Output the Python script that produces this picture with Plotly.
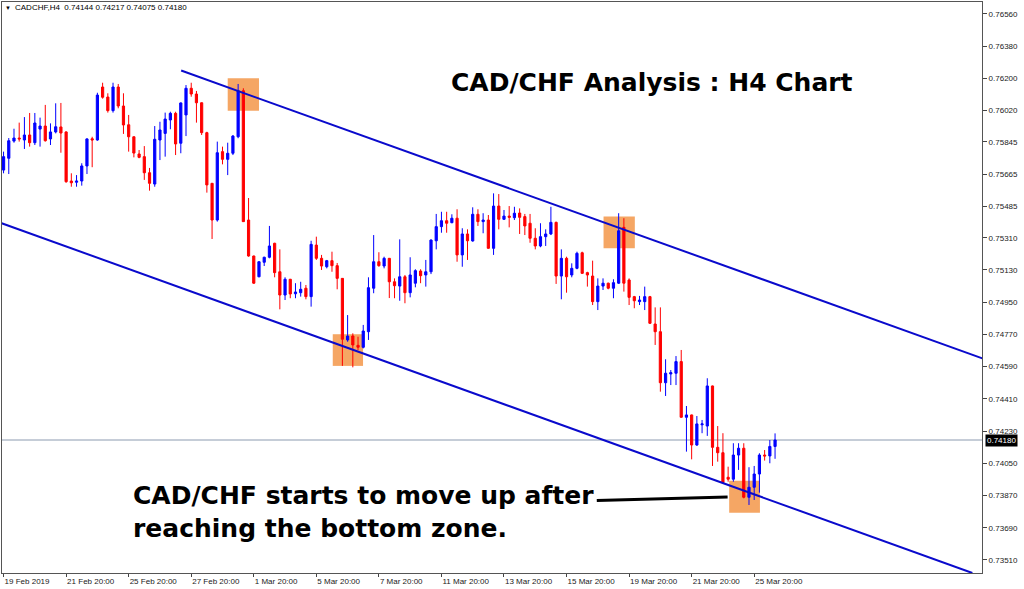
import plotly.graph_objects as go

# ---------------- data ----------------
open_ = [0.75688,0.75754,0.75850,0.75867,0.75856,0.75884,0.75841,0.75917,0.75934,0.75862,
         0.75901,0.75929,0.75901,0.75627,0.75620,0.75627,0.75711,0.75863,0.75856,0.76152,
         0.76096,0.76020,0.76152,0.76046,0.75941,0.75874,0.75778,0.75763,0.75673,0.75610,
         0.75856,0.75893,0.75968,0.76005,0.75838,0.75996,0.76145,0.76113,0.76064,0.75897,
         0.75614,0.75409,0.75791,0.75748,0.75782,0.75874,0.76131,0.75409,0.75208,0.75092,
         0.75173,0.75201,0.75279,0.75120,0.74990,0.75078,0.74997,0.75003,0.75028,0.74981,
         0.75269,0.75195,0.75148,0.75182,0.75154,0.75083,0.74739,0.74761,0.74709,0.74698,
         0.74785,0.75028,0.75176,0.75152,0.75195,0.75064,0.75040,0.75092,0.75003,0.75056,
         0.75124,0.75102,0.75120,0.75293,0.75372,0.75405,0.75394,0.75419,0.75214,0.75331,
         0.75292,0.75441,0.75400,0.75409,0.75251,0.75487,0.75413,0.75431,0.75422,0.75448,
         0.75428,0.75391,0.75307,0.75264,0.75316,0.75331,0.75396,0.75096,0.75195,0.75102,
         0.75139,0.75226,0.75115,0.75096,0.74953,0.75040,0.75056,0.75028,0.75056,0.75368,
         0.75074,0.74981,0.74953,0.74953,0.74981,0.74828,0.74785,0.74500,0.74549,0.74553,
         0.74618,0.74307,0.74320,0.74152,0.74265,0.74258,0.74482,0.74139,0.74109,0.73972,
         0.73961,0.74096,0.74134,0.73860,0.73916,0.73990,0.74096,0.74091,0.74144]
high_ = [0.75791,0.75867,0.75919,0.75953,0.75984,0.76007,0.76007,0.75981,0.76052,0.75949,
         0.76061,0.76063,0.75905,0.75670,0.75660,0.75726,0.75866,0.75874,0.76120,0.76176,
         0.76117,0.76176,0.76169,0.76117,0.75996,0.75876,0.75800,0.75822,0.75700,0.75934,
         0.75958,0.76009,0.76014,0.76014,0.76066,0.76163,0.76176,0.76130,0.76066,0.75902,
         0.75616,0.75847,0.75819,0.75841,0.75884,0.76169,0.76145,0.75532,0.75210,0.75178,
         0.75204,0.75376,0.75282,0.75245,0.75089,0.75080,0.75056,0.75064,0.75046,0.75293,
         0.75316,0.75214,0.75186,0.75232,0.75169,0.75085,0.74878,0.74776,0.74757,0.74823,
         0.75089,0.75325,0.75229,0.75204,0.75197,0.75083,0.75301,0.75102,0.75201,0.75134,
         0.75134,0.75186,0.75301,0.75443,0.75455,0.75455,0.75441,0.75469,0.75363,0.75357,
         0.75480,0.75469,0.75447,0.75437,0.75558,0.75554,0.75465,0.75487,0.75483,0.75474,
         0.75443,0.75443,0.75363,0.75391,0.75357,0.75483,0.75400,0.75245,0.75204,0.75167,
         0.75232,0.75232,0.75120,0.75182,0.75083,0.75083,0.75059,0.75078,0.75447,0.75419,
         0.75083,0.74985,0.74985,0.75037,0.74985,0.74921,0.74921,0.74631,0.74571,0.74649,
         0.74683,0.74370,0.74322,0.74314,0.74292,0.74525,0.74484,0.74258,0.74218,0.74031,
         0.74162,0.74162,0.74162,0.74028,0.74035,0.74106,0.74124,0.74180,0.74217]
low_ = [0.75670,0.75666,0.75841,0.75847,0.75806,0.75819,0.75828,0.75819,0.75847,0.75828,
        0.75893,0.75785,0.75617,0.75595,0.75595,0.75601,0.75666,0.75704,0.75852,0.76087,
        0.76009,0.76009,0.76033,0.75890,0.75791,0.75759,0.75754,0.75633,0.75573,0.75595,
        0.75744,0.75763,0.75916,0.75772,0.75782,0.75878,0.76098,0.75953,0.75884,0.75562,
        0.75303,0.75400,0.75720,0.75660,0.75772,0.75866,0.75398,0.75204,0.75052,0.75089,
        0.75152,0.75195,0.75089,0.74910,0.74962,0.74972,0.74972,0.74981,0.74966,0.74925,
        0.75186,0.75130,0.75139,0.75120,0.75022,0.74594,0.74729,0.74586,0.74683,0.74692,
        0.74739,0.75000,0.75148,0.75139,0.74973,0.74972,0.74958,0.74944,0.74977,0.75033,
        0.75056,0.75037,0.75107,0.75245,0.75338,0.75338,0.75391,0.75176,0.75148,0.75186,
        0.75288,0.75376,0.75335,0.75249,0.75214,0.75357,0.75409,0.75368,0.75409,0.75331,
        0.75325,0.75282,0.75245,0.75257,0.75264,0.75325,0.75052,0.74966,0.75003,0.75089,
        0.75134,0.75109,0.75037,0.74934,0.74906,0.75018,0.75022,0.74972,0.75052,0.75009,
        0.74934,0.74916,0.74934,0.74906,0.74828,0.74711,0.74450,0.74426,0.74487,0.74487,
        0.74305,0.74115,0.74072,0.74147,0.74218,0.74203,0.74035,0.74059,0.73938,0.73947,
        0.73947,0.74013,0.73854,0.73817,0.73845,0.73886,0.74065,0.74050,0.74075]
close_ = [0.75763,0.75852,0.75867,0.75862,0.75884,0.75841,0.75951,0.75934,0.75852,0.75901,
          0.75930,0.75895,0.75623,0.75617,0.75627,0.75711,0.75862,0.75856,0.76107,0.76095,
          0.76020,0.76152,0.76046,0.75940,0.75874,0.75783,0.75759,0.75673,0.75614,0.75860,
          0.75912,0.75973,0.76005,0.75834,0.76063,0.76145,0.76113,0.76064,0.75897,0.75605,
          0.75409,0.75785,0.75748,0.75782,0.75878,0.76131,0.75400,0.75208,0.75056,0.75176,
          0.75201,0.75264,0.75115,0.74990,0.75078,0.74996,0.75007,0.75022,0.74981,0.75273,
          0.75195,0.75152,0.75182,0.75154,0.75083,0.74743,0.74761,0.74711,0.74698,0.74789,
          0.75031,0.75176,0.75154,0.75195,0.75064,0.75042,0.75092,0.75003,0.75102,0.75126,
          0.75098,0.75120,0.75297,0.75372,0.75405,0.75391,0.75419,0.75214,0.75331,0.75293,
          0.75441,0.75400,0.75409,0.75251,0.75487,0.75413,0.75431,0.75424,0.75447,0.75424,
          0.75376,0.75307,0.75264,0.75316,0.75331,0.75396,0.75096,0.75195,0.75092,0.75139,
          0.75223,0.75111,0.75102,0.74953,0.75040,0.75056,0.75028,0.75059,0.75349,0.75056,
          0.74977,0.74958,0.74962,0.74981,0.74832,0.74785,0.74500,0.74553,0.74556,0.74618,
          0.74307,0.74320,0.74152,0.74270,0.74270,0.74482,0.74139,0.74109,0.73942,0.73961,
          0.74096,0.74134,0.73860,0.73916,0.73990,0.74096,0.74091,0.74144,0.74180]
bar_index = list(range(len(close_)))

date_tick_index = [0, 12, 24, 36, 48, 60, 72, 84, 96, 108, 120, 132, 144]
date_tick_labels = ["19 Feb 2019", "21 Feb 20:00", "25 Feb 20:00", "27 Feb 20:00",
                    "1 Mar 20:00", "5 Mar 20:00", "7 Mar 20:00", "11 Mar 20:00",
                    "13 Mar 20:00", "15 Mar 20:00", "19 Mar 20:00", "21 Mar 20:00",
                    "25 Mar 20:00"]
price_ticks = [0.76560, 0.76380, 0.76200, 0.76020, 0.75845, 0.75665, 0.75485, 0.75310,
               0.75130, 0.74950, 0.74770, 0.74590, 0.74410, 0.74230, 0.74050, 0.73870,
               0.73690, 0.73510]
price_tick_labels = ["%.5f" % v for v in price_ticks]

last_price = 0.74180
header_text = "CADCHF,H4  0.74144 0.74217 0.74075 0.74180"

# channel lines: (bar index, price) end points
upper_channel = [(34.07, 0.76244), (187.8, 0.74636)]
lower_channel = [(-0.44, 0.75392), (185.85, 0.73437)]
# highlighted zones: (start index, end index, low price, high price)
zones = [(43.0, 49.0, 0.76020, 0.76201),
         (63.15, 68.96, 0.74594, 0.74771),
         (115.1, 121.1, 0.75251, 0.75428),
         (139.2, 145.1, 0.73774, 0.73953)]
pointer_line = [(113.8, 0.73842), (138.9, 0.73862)]

# ---------------- figure ----------------
fig = go.Figure()
fig.add_trace(go.Candlestick(
    x=bar_index, open=open_, high=high_, low=low_, close=close_,
    increasing=dict(line=dict(color="#0000FF", width=1), fillcolor="#0000FF"),
    decreasing=dict(line=dict(color="#FF0000", width=1), fillcolor="#FF0000"),
    whiskerwidth=0, showlegend=False, hoverinfo="skip"))

shapes = []
for x0, x1, lo, hi in zones:
    shapes.append(dict(type="rect", xref="x", yref="y", x0=x0, x1=x1, y0=lo, y1=hi,
                       fillcolor="rgb(245,166,100)", line=dict(width=0), layer="below"))
shapes.append(dict(type="line", xref="paper", yref="y", x0=0, x1=1,
                   y0=last_price, y1=last_price,
                   line=dict(color="#8C9BB0", width=1), layer="below"))
for (xa, ya), (xb, yb) in [upper_channel, lower_channel]:
    shapes.append(dict(type="line", xref="x", yref="y", x0=xa, y0=ya, x1=xb, y1=yb,
                       line=dict(color="#0A0ACC", width=2)))
(pa, qa), (pb, qb) = pointer_line
shapes.append(dict(type="line", xref="x", yref="y", x0=pa, y0=qa, x1=pb, y1=qb,
                   line=dict(color="#000000", width=3)))

W, H = 1024, 589
ml, mr, mt, mb = 2, 42, 2, 16
pw, ph = W - ml - mr, H - mt - mb


def px(xp):
    return (xp - ml) / pw


def py(yp):
    return (H - mb - yp) / ph


title_font = dict(family="DejaVu Sans", size=25, color="#000000", weight="bold")
annotations = [
    dict(text="\u25BC", x=px(3), y=py(7.5), xref="paper", yref="paper",
         xanchor="left", yanchor="middle", showarrow=False,
         font=dict(family="Liberation Sans", size=6, color="#000000")),
    dict(text=header_text, x=px(13), y=py(7.5), xref="paper", yref="paper",
         xanchor="left", yanchor="middle", showarrow=False,
         font=dict(family="Liberation Sans", size=8, color="#000000")),
    dict(text="CAD/CHF Analysis : H4 Chart", x=px(652), y=py(83), xref="paper",
         yref="paper", xanchor="center", yanchor="middle", showarrow=False,
         font=title_font),
    dict(text="CAD/CHF starts to move up after<br>reaching the bottom zone.",
         x=px(131), y=py(511.5), xref="paper", yref="paper", xanchor="left",
         yanchor="middle", align="left", showarrow=False, font=title_font),
    dict(text="%.5f" % last_price, x=1, y=last_price, xref="paper", yref="y",
         xanchor="left", yanchor="middle", showarrow=False, xshift=3,
         bgcolor="#000000", borderpad=1,
         font=dict(family="Liberation Sans", size=8, color="#FFFFFF")),
]

fig.update_layout(
    width=W, height=H, margin=dict(l=ml, r=mr, t=mt, b=mb, pad=0),
    paper_bgcolor="#FFFFFF", plot_bgcolor="#FFFFFF",
    shapes=shapes, annotations=annotations, showlegend=False,
    boxgap=0.4,
    xaxis=dict(range=[-0.3, 187.7], tickmode="array", tickvals=date_tick_index,
               ticktext=date_tick_labels, ticks="outside", ticklen=3,
               tickcolor="#444444", showline=True, linecolor="#555555", linewidth=1,
               mirror=True, showgrid=False, zeroline=False,
               ticklabelposition="outside right", rangeslider=dict(visible=False),
               tickfont=dict(family="Liberation Sans", size=8, color="#222222")),
    yaxis=dict(range=[0.73437, 0.76627], side="right", tickmode="array",
               tickvals=price_ticks, ticktext=price_tick_labels, ticks="outside",
               ticklen=4, tickcolor="#444444", showline=True, linecolor="#555555",
               linewidth=1, mirror=True, showgrid=False, zeroline=False,
               tickfont=dict(family="Liberation Sans", size=8, color="#222222")),
)

fig.write_html("out.html", config={"displayModeBar": False},
               post_script="document.body.style.margin='0';document.body.style.overflow='hidden';")
